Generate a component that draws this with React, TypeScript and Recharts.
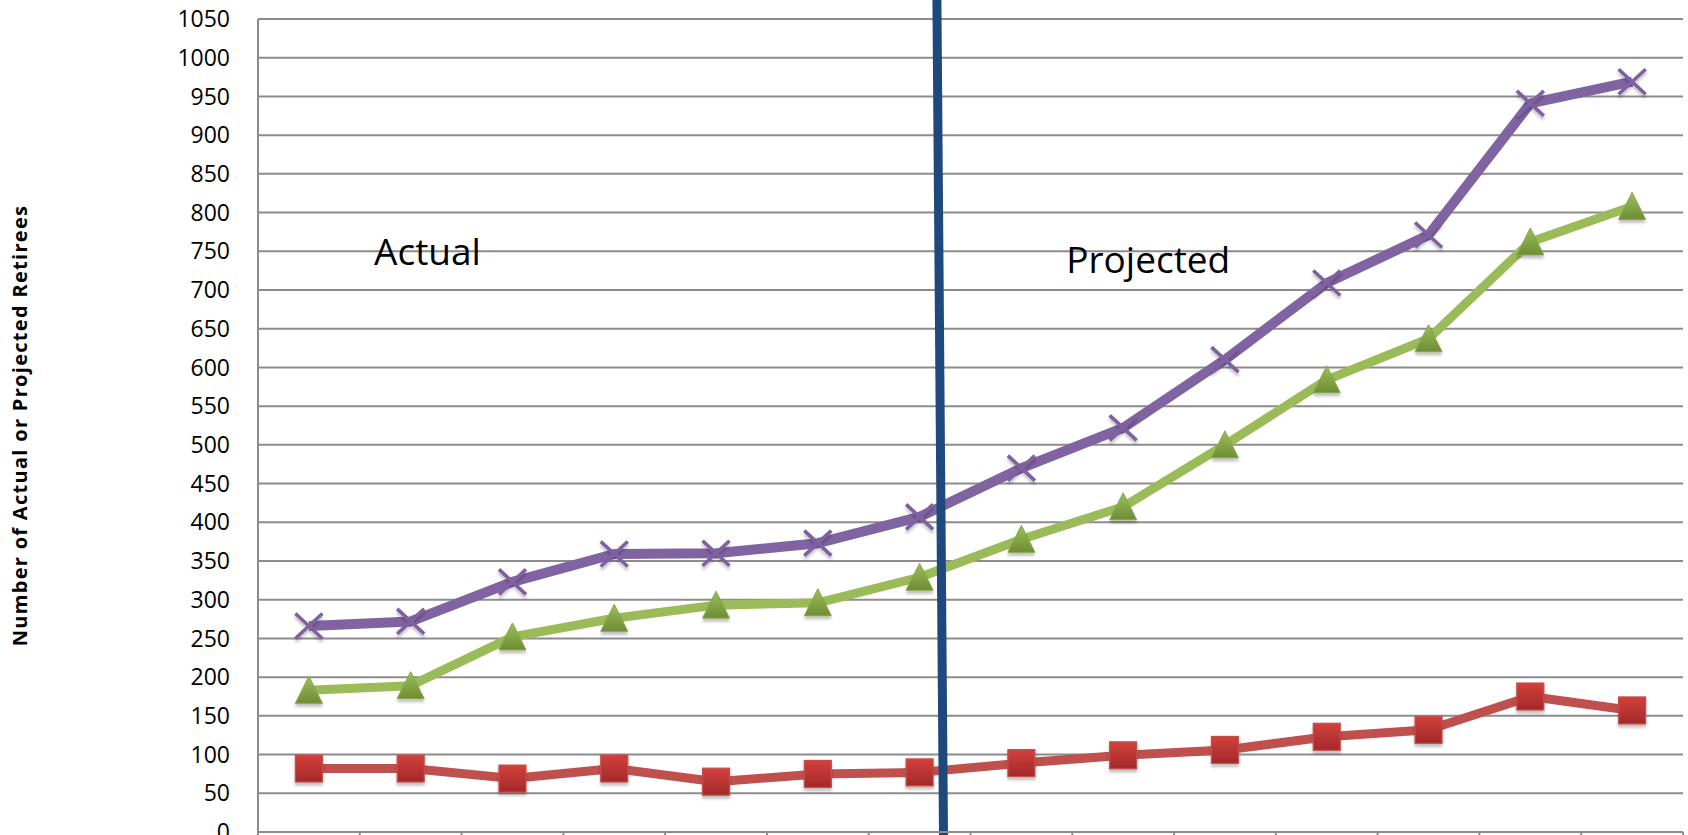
import React from 'react';
import { LineChart, Line, XAxis, YAxis, CartesianGrid, ReferenceLine, ReferenceDot, Label } from 'recharts';

// fiscal years, first seven actual, last seven projected
const years = ['2006', '2007', '2008', '2009', '2010', '2011', '2012', '2013', '2014', '2015', '2016', '2017', '2018', '2019'];
const totalRetirees = [266, 272, 323, 359, 360, 373, 407, 470, 522, 610, 709, 771, 941, 969];
const serviceRetirees = [183, 189, 252, 276, 293, 296, 329, 378, 420, 500, 584, 637, 762, 808];
const disabilityRetirees = [82, 82, 69, 82, 65, 75, 77, 89, 99, 106, 123, 132, 175, 157];
const yTicks = [0, 50, 100, 150, 200, 250, 300, 350, 400, 450, 500, 550, 600, 650, 700, 750, 800, 850, 900, 950, 1000, 1050];

const data = years.map((year, i) => ({
  idx: i,
  year,
  total: totalRetirees[i],
  service: serviceRetirees[i],
  disability: disabilityRetirees[i],
}));

// boundaries between year slots, where Excel-style tick marks sit
const slotEdges = [-0.5, ...years.map((_, i) => i + 0.5)];

const FONT = '"Open Sans", "DejaVu Sans", sans-serif';
const GRID = '#8c8c8c';

const CrossDot = (props: any) => {
  const { cx, cy, index } = props;
  if (cx == null || cy == null) return <g key={`x-${index}`} />;
  const w = 13.5;
  const h = 12.5;
  return (
    <g key={`x-${index}`} filter="url(#markerShadow)">
      <path
        d={`M${cx - w},${cy - h}L${cx + w},${cy + h}M${cx + w},${cy - h}L${cx - w},${cy + h}`}
        stroke="#7f60a1"
        strokeWidth={3.6}
        fill="none"
      />
    </g>
  );
};

const TriangleDot = (props: any) => {
  const { cx, cy, index } = props;
  if (cx == null || cy == null) return <g key={`t-${index}`} />;
  const w = 13.5;
  const h = 26;
  return (
    <g key={`t-${index}`} filter="url(#markerShadow)">
      <path
        d={`M${cx},${cy - h / 2 - 1}L${cx + w},${cy + h / 2}L${cx - w},${cy + h / 2}Z`}
        fill="url(#greenGrad)"
        stroke="#86a64a"
        strokeWidth={1}
      />
    </g>
  );
};

const SquareDot = (props: any) => {
  const { cx, cy, index } = props;
  if (cx == null || cy == null) return <g key={`s-${index}`} />;
  const s = 13.5;
  return (
    <g key={`s-${index}`} filter="url(#markerShadow)">
      <rect x={cx - s} y={cy - s} width={2 * s} height={2 * s} fill="url(#redGrad)" stroke="#c4504c" strokeWidth={1.2} />
    </g>
  );
};

const sectionLabel = (text: string) => (props: any) => {
  const vb = props.viewBox || {};
  return (
    <text x={vb.x + 1} y={vb.y + 1} textAnchor="start" fontFamily={FONT} fontSize={37} fill="#000">
      {text}
    </text>
  );
};

export default function App() {
  return (
    <div style={{ position: 'absolute', left: 0, top: 0, width: 1688, height: 900, background: '#fff' }}>
      <LineChart
        width={1688}
        height={900}
        data={data}
        margin={{ top: 19, right: 5, bottom: 28, left: 0 }}
      >
        <defs>
          <linearGradient id="greenGrad" x1="0" y1="0" x2="0" y2="1">
            <stop offset="0%" stopColor="#9cc05a" />
            <stop offset="100%" stopColor="#6e8c35" />
          </linearGradient>
          <linearGradient id="redGrad" x1="0" y1="0" x2="0" y2="1">
            <stop offset="0%" stopColor="#d2403c" />
            <stop offset="100%" stopColor="#a3292a" />
          </linearGradient>
          <filter id="markerShadow" x="-60%" y="-60%" width="220%" height="240%">
            <feGaussianBlur in="SourceAlpha" stdDeviation="1.5" result="blur" />
            <feOffset in="blur" dy="3" result="off" />
            <feComponentTransfer in="off" result="soft">
              <feFuncA type="linear" slope="0.25" />
            </feComponentTransfer>
            <feMerge>
              <feMergeNode in="soft" />
              <feMergeNode in="SourceGraphic" />
            </feMerge>
          </filter>
        </defs>
        <CartesianGrid horizontal vertical={false} stroke={GRID} strokeWidth={2} />
        <XAxis
          dataKey="idx"
          type="number"
          domain={[-0.5, 13.5]}
          ticks={slotEdges}
          tickFormatter={() => ''}
          axisLine={{ stroke: GRID, strokeWidth: 2 }}
          tickLine={{ stroke: GRID, strokeWidth: 2 }}
          tickSize={7}
          height={40}
        />
        <YAxis
          type="number"
          domain={[0, 1050]}
          ticks={yTicks}
          interval={0}
          width={258}
          axisLine={{ stroke: GRID, strokeWidth: 2 }}
          tickLine={false}
          tickMargin={22}
          tick={{ fill: '#000', fontSize: 23, fontFamily: FONT }}
        >
          <Label
            content={(props: any) => {
              const vb = props.viewBox || { y: 0, height: 0 };
              const cy = vb.y + vb.height / 2;
              return (
                <text
                  x={19}
                  y={cy}
                  transform={`rotate(-90 19 ${cy})`}
                  textAnchor="middle"
                  dominantBaseline="central"
                  fontFamily={FONT}
                  fontWeight={700}
                  fontSize={20}
                  letterSpacing={1.3}
                  fill="#000"
                >
                  Number of Actual or Projected Retirees
                </text>
              );
            }}
          />
        </YAxis>
        <Line
          type="linear"
          dataKey="disability"
          stroke="#c0504d"
          strokeWidth={9}
          strokeLinejoin="round"
          dot={SquareDot}
          activeDot={false}
          isAnimationActive={false}
        />
        <Line
          type="linear"
          dataKey="service"
          stroke="#9bbb59"
          strokeWidth={9}
          strokeLinejoin="round"
          dot={TriangleDot}
          activeDot={false}
          isAnimationActive={false}
        />
        <Line
          type="linear"
          dataKey="total"
          stroke="#8064a2"
          strokeWidth={10}
          strokeLinejoin="round"
          dot={CrossDot}
          activeDot={false}
          isAnimationActive={false}
        />
        <ReferenceLine
          segment={[{ x: 6.17, y: 1075 }, { x: 6.235, y: -10 }]}
          stroke="#1f497d"
          strokeWidth={9}
          ifOverflow="visible"
        />
        <ReferenceDot x={0.64} y={732} r={1} fill="none" stroke="none" ifOverflow="visible">
          <Label content={sectionLabel('Actual')} />
        </ReferenceDot>
        <ReferenceDot x={7.44} y={722} r={1} fill="none" stroke="none" ifOverflow="visible">
          <Label content={sectionLabel('Projected')} />
        </ReferenceDot>
      </LineChart>
    </div>
  );
}
